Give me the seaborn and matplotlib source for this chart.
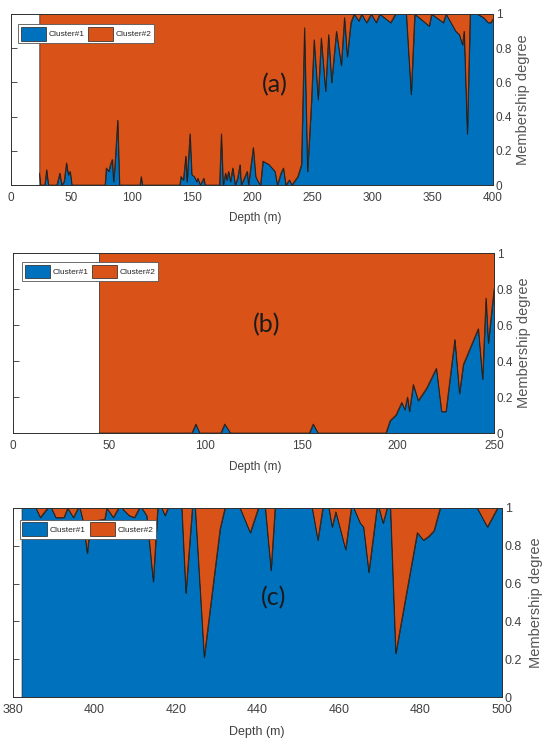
import numpy as np
import matplotlib
matplotlib.use("Agg")
import matplotlib.pyplot as plt
import seaborn as sns
from matplotlib.patches import Patch

# ---------------- data: membership degree of Cluster#1 versus depth ----------------
# Cluster#2 is the complementary membership (the two degrees sum to 1).

depth_a = [23.5, 24.5, 28, 29.5, 31, 38, 40.5, 42, 44, 46, 47.5, 49, 50.5,
           78, 79, 81, 82.5, 84, 85, 86, 88.5, 90, 107, 108, 109,
           140, 141, 143, 145, 146, 148.5, 150, 152, 154, 155, 157, 160, 161,
           173, 174.5, 176, 178, 179, 180.5, 182, 184, 186, 188, 190, 191,
           196, 197, 201, 203, 205, 207, 209, 214, 219, 221, 224, 226, 228,
           231, 233, 235, 238, 241, 243.5, 246, 249, 251.5, 254.8, 257.4, 261,
           263.5, 266, 270, 274, 276.7, 279, 282, 284.7, 288.6, 291, 295, 299,
           303, 306, 315, 319, 328, 332, 335, 347, 349, 358.7, 361, 369, 372,
           374.6, 376, 378.6, 381, 387, 392, 396, 398, 400]
cluster1_a = [0.07, 0, 0, 0.09, 0, 0, 0.07, 0, 0.02, 0.13, 0.06, 0.08, 0,
              0, 0.10, 0.08, 0.12, 0.15, 0.02, 0.10, 0.38, 0, 0, 0.05, 0,
              0, 0.05, 0.03, 0.17, 0.02, 0.30, 0.06, 0.05, 0.02, 0.04, 0, 0.04, 0,
              0, 0.30, 0, 0.07, 0.03, 0.08, 0.02, 0.10, 0, 0.04, 0.12, 0,
              0.08, 0, 0.22, 0.05, 0.02, 0, 0.14, 0.12, 0.08, 0, 0.07, 0.10, 0,
              0.03, 0, 0.02, 0.05, 0.12, 0.92, 0.08, 0.45, 0.85, 0.50, 0.86, 0.55,
              0.88, 0.60, 0.90, 0.70, 0.98, 0.75, 0.95, 1.0, 0.96, 1.0, 0.95, 1.0,
              0.95, 1.0, 0.95, 1.0, 1.0, 0.53, 1.0, 0.93, 1.0, 0.95, 1.0, 0.90, 0.88,
              0.82, 0.90, 0.30, 1.0, 1.0, 0.98, 0.95, 0.95, 0.97]

depth_b = [44.7, 93, 95, 97, 108, 110, 113, 154, 156, 158.5, 193.8, 196, 199,
           202, 203.6, 205, 206, 208, 210.6, 215, 220, 222.7, 225, 229.6, 232,
           234, 241.8, 244, 245.8, 247, 250]
cluster1_b = [0, 0, 0.05, 0, 0, 0.05, 0, 0, 0.05, 0, 0, 0.07, 0.10,
              0.17, 0.13, 0.20, 0.12, 0.27, 0.18, 0.25, 0.36, 0.12, 0.12, 0.52, 0.22,
              0.38, 0.58, 0.30, 0.75, 0.50, 0.80]

depth_c = [382.1, 385.6, 386.7, 388.5, 389.4, 390.5, 392.5, 393.4, 394.8, 396,
           396.4, 397.2, 398.2, 399, 402.5, 403, 404.6, 405.9, 406.7, 408.5,
           409.8, 411, 411.6, 412.8, 414.4, 415.5, 416.5, 417.3, 418, 421.4,
           422.4, 424, 424.7, 426.9, 430.8, 432, 435.7, 438.2, 440.2, 441.9,
           443.3, 444.3, 453.4, 454.8, 456, 457.5, 458.3, 459.2, 461.6, 463,
           463.6, 465.2, 466, 467.3, 469.3, 469.8, 470.8, 471.8, 472.6, 473.9,
           479.2, 480.7, 482, 483.3, 484.8, 493.9, 496.4, 498.9, 500]
cluster1_c = [1.0, 1.0, 0.95, 1.0, 1.0, 0.95, 0.95, 1.0, 0.95, 1.0,
              1.0, 0.93, 0.76, 0.93, 0.94, 1.0, 0.95, 1.0, 1.0, 0.96,
              0.95, 1.0, 1.0, 0.96, 0.61, 1.0, 1.0, 0.96, 1.0, 1.0,
              0.55, 1.0, 1.0, 0.21, 0.89, 1.0, 1.0, 0.87, 1.0, 1.0,
              0.67, 1.0, 1.0, 0.83, 1.0, 1.0, 0.90, 0.98, 0.78, 1.0,
              1.0, 0.92, 0.90, 0.66, 1.0, 1.0, 0.92, 1.0, 1.0, 0.23,
              0.87, 0.83, 0.85, 0.88, 1.0, 1.0, 0.90, 1.0, 1.0]

y_ticks = [0, 0.2, 0.4, 0.6, 0.8, 1.0]
y_tick_labels = ["0", "0.2", "0.4", "0.6", "0.8", "1"]
legend_labels = ["Cluster#1", "Cluster#2"]

# ---------------- styling ----------------
sns.set_theme(style="white")
plt.rcParams["font.family"] = ["Liberation Sans", "DejaVu Sans"]

BLUE = "#0072BD"
ORANGE = "#D95319"
EDGE = "#1f1f1f"
AXC = "#303030"
TXT = "#404040"

fig = plt.figure(figsize=(5.46, 7.42), dpi=100)
fig.patch.set_facecolor("white")

W, H = 546.0, 742.0


def rect(left, right, top, bottom):
    return [left / W, 1 - bottom / H, (right - left) / W, (bottom - top) / H]


panels = [
    dict(depth=depth_a, c1=cluster1_a, rect=rect(11, 493, 14, 185),
         xlim=(0, 400), xticks=list(range(0, 401, 50)), tag="(a)",
         tagpos=(0.548, 0.585), ylab_x=1.047, xlab_pos=(0.506, -0.16),
         leg=(0.015, 0.94), fs=8.5),
    dict(depth=depth_b, c1=cluster1_b, rect=rect(13, 494, 253, 433),
         xlim=(0, 250), xticks=list(range(0, 251, 50)), tag="(b)",
         tagpos=(0.528, 0.60), ylab_x=1.047, xlab_pos=(0.503, -0.155),
         leg=(0.019, 0.95), fs=8.5),
    dict(depth=depth_c, c1=cluster1_c, rect=rect(13, 502, 508, 697),
         xlim=(380, 500), xticks=list(range(380, 501, 20)), tag="(c)",
         tagpos=(0.532, 0.524), ylab_x=1.055, xlab_pos=(0.499, -0.155),
         leg=(0.014, 0.937), fs=9),
]

for p in panels:
    ax = fig.add_axes(p["rect"])
    ax.set_facecolor("white")
    d = np.asarray(p["depth"], dtype=float)
    c1 = np.asarray(p["c1"], dtype=float)
    c2 = 1.0 - c1

    ax.stackplot(d, c1, c2, colors=[BLUE, ORANGE], edgecolor=EDGE,
                 linewidth=0.5, zorder=1)
    sns.lineplot(x=d, y=c1, ax=ax, color=EDGE, linewidth=0.5,
                 estimator=None, sort=False, zorder=2)

    ax.set_xlim(*p["xlim"])
    ax.set_ylim(0, 1)
    ax.set_xticks(p["xticks"])
    ax.set_xticklabels([str(t) for t in p["xticks"]])
    ax.set_yticks(y_ticks)
    ax.set_yticklabels(y_tick_labels)

    ax.tick_params(axis="both", direction="in", length=4, width=0.6,
                   color=AXC, labelcolor=TXT, labelsize=p["fs"],
                   top=True, right=True, left=True, bottom=True,
                   labelleft=False, labelright=True)
    ax.tick_params(axis="x", pad=5)
    ax.tick_params(axis="y", pad=2)

    for s in ax.spines.values():
        s.set_visible(True)
        s.set_linewidth(0.7)
        s.set_color(AXC)
        s.set_zorder(5)

    ax.set_xlabel("Depth (m)", fontsize=p["fs"], color=TXT)
    ax.xaxis.set_label_coords(*p["xlab_pos"])
    ax.yaxis.set_label_position("right")
    ax.set_ylabel("Membership degree", fontsize=10.5, color="#555555",
                  rotation=90)
    ax.yaxis.set_label_coords(p["ylab_x"], 0.5)

    ax.text(p["tagpos"][0], p["tagpos"][1], p["tag"], transform=ax.transAxes,
            ha="center", va="center", fontsize=18, color="#1a1a1a",
            family=["Lato", "DejaVu Sans"], zorder=6)

    handles = [Patch(facecolor=BLUE, edgecolor=EDGE, linewidth=0.5),
               Patch(facecolor=ORANGE, edgecolor=EDGE, linewidth=0.5)]
    leg = ax.legend(handles, legend_labels, loc="upper left",
                    bbox_to_anchor=p["leg"], borderaxespad=0, ncol=2,
                    fontsize=6, handlelength=3.0, handleheight=2.2,
                    handletextpad=0.3, columnspacing=0.5, borderpad=0.3,
                    frameon=True, fancybox=False, framealpha=1,
                    edgecolor="#555555")
    leg.get_frame().set_linewidth(0.6)
    leg.set_zorder(7)

fig.savefig("out.png", dpi=100, facecolor="white")
